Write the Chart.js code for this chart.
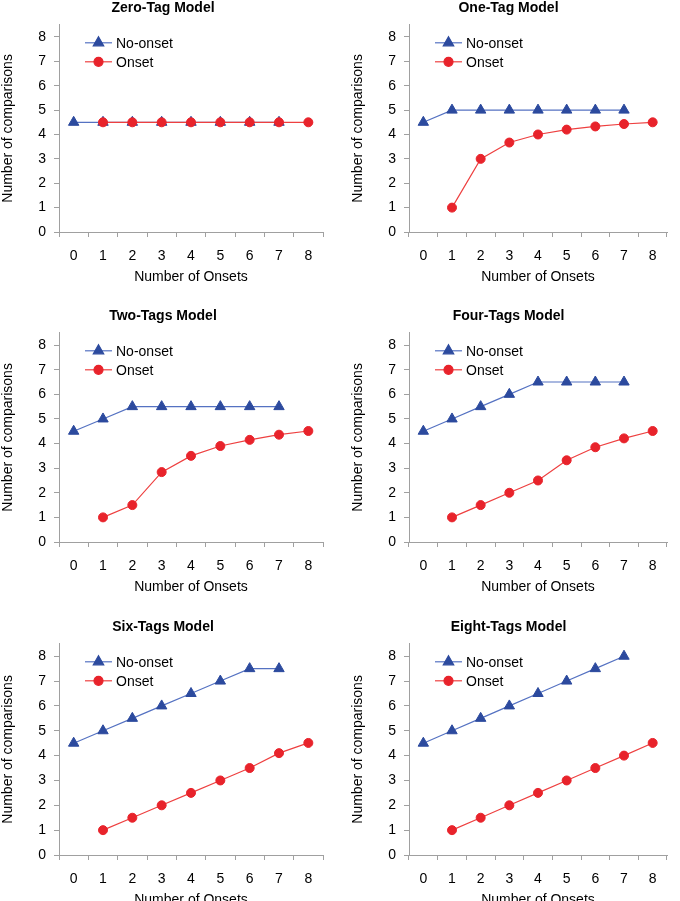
<!DOCTYPE html>
<html>
<head>
<meta charset="utf-8">
<script src="https://cdn.jsdelivr.net/npm/chart.js@4.4.1/dist/chart.umd.min.js"></script>
<style>
    body { margin: 0; background: #fff; width: 680px; height: 901px; position: relative; overflow: hidden; }
    canvas { position: absolute; }
</style>
</head>
<body>
<canvas id="zeroTag" width="330" height="286" style="left:0;top:0"></canvas>
<canvas id="oneTag" width="330" height="286" style="left:350px;top:0"></canvas>
<canvas id="twoTags" width="330" height="288" style="left:0;top:308px"></canvas>
<canvas id="fourTags" width="330" height="288" style="left:350px;top:308px"></canvas>
<canvas id="sixTags" width="330" height="290" style="left:0;top:619px"></canvas>
<canvas id="eightTags" width="330" height="290" style="left:350px;top:619px"></canvas>
<script>
// x categories and y tick values
const onsetCounts = ['0', '1', '2', '3', '4', '5', '6', '7', '8'];
const yTickValues = [0, 1, 2, 3, 4, 5, 6, 7, 8];

// number of comparisons per model (null = no point)
const zeroNoOnset  = [4.5, 4.5, 4.5, 4.5, 4.5, 4.5, 4.5, 4.5, null];
const zeroOnset    = [null, 4.5, 4.5, 4.5, 4.5, 4.5, 4.5, 4.5, 4.5];
const oneNoOnset   = [4.5, 5, 5, 5, 5, 5, 5, 5, null];
const oneOnset     = [null, 1, 3, 3.67, 4, 4.2, 4.33, 4.43, 4.5];
const twoNoOnset   = [4.5, 5, 5.5, 5.5, 5.5, 5.5, 5.5, 5.5, null];
const twoOnset     = [null, 1, 1.5, 2.84, 3.5, 3.9, 4.15, 4.36, 4.51];
const fourNoOnset  = [4.5, 5, 5.5, 6, 6.5, 6.5, 6.5, 6.5, null];
const fourOnset    = [null, 1, 1.5, 2, 2.5, 3.32, 3.85, 4.21, 4.51];
const sixNoOnset   = [4.5, 5, 5.5, 6, 6.5, 7, 7.5, 7.5, null];
const sixOnset     = [null, 1, 1.5, 2, 2.5, 3, 3.5, 4.1, 4.51];
const eightNoOnset = [4.5, 5, 5.5, 6, 6.5, 7, 7.5, 8, null];
const eightOnset   = [null, 1, 1.5, 2, 2.5, 3, 3.5, 4, 4.51];

const BLUE = '#2c4a9e';
const BLUE_LINE = '#5572c2';
const RED = '#e8232b';
const RED_LINE = '#ee4040';
const AXIS = '#a0a0a0';

Chart.defaults.font.family = "'Liberation Sans', Arial, sans-serif";
Chart.defaults.color = '#000';

// legend drawn inside the plot, Excel style: line with the marker on it
const insideLegend = {
    id: 'insideLegend',
    afterDraw(chart) {
        const { ctx, chartArea } = chart;
        chart.data.datasets.forEach((ds, i) => {
            const x0 = chartArea.left + 26;
            const y = chartArea.top + 18 + i * 19;
            ctx.save();
            ctx.strokeStyle = ds.borderColor;
            ctx.lineWidth = ds.borderWidth;
            ctx.beginPath();
            ctx.moveTo(x0, y);
            ctx.lineTo(x0 + 27, y);
            ctx.stroke();
            ctx.fillStyle = ds.pointBackgroundColor;
            ctx.strokeStyle = ds.pointBorderColor;
            Chart.helpers.drawPoint(ctx, {
                pointStyle: ds.pointStyle, radius: ds.pointRadius, rotation: 0, borderWidth: 1
            }, x0 + 13.5, y);
            ctx.fillStyle = '#000';
            ctx.font = "14px 'Liberation Sans', Arial, sans-serif";
            ctx.textBaseline = 'middle';
            ctx.fillText(ds.label, x0 + 31, y + 1);
            ctx.restore();
        });
    }
};

function makeChart(id, title, noOnset, onset, rightPad) {
    new Chart(document.getElementById(id), {
        type: 'line',
        data: {
            labels: onsetCounts,
            datasets: [{
                label: 'No-onset',
                data: noOnset,
                borderColor: BLUE_LINE,
                borderWidth: 1.2,
                pointStyle: 'triangle',
                pointRadius: 6,
                pointBackgroundColor: BLUE,
                pointBorderColor: BLUE,
                pointBorderWidth: 1,
                order: 2
            }, {
                label: 'Onset',
                data: onset,
                borderColor: RED_LINE,
                borderWidth: 1.2,
                pointStyle: 'circle',
                pointRadius: 4.5,
                pointBackgroundColor: RED,
                pointBorderColor: RED,
                pointBorderWidth: 1,
                order: 1
            }]
        },
        options: {
            responsive: false,
            animation: false,
            events: [],
            layout: { padding: { left: 0, right: rightPad, top: 0, bottom: 0 } },
            plugins: {
                legend: { display: false },
                tooltip: { enabled: false },
                title: {
                    display: true,
                    text: title,
                    color: '#000',
                    font: { size: 14, weight: 'bold' },
                    padding: { top: 0, bottom: 8 }
                }
            },
            scales: {
                x: {
                    offset: true,
                    grid: { offset: true, drawOnChartArea: false, tickLength: 5, color: AXIS },
                    border: { color: AXIS },
                    ticks: { padding: 11, font: { size: 14 }, maxRotation: 0, autoSkip: false },
                    title: { display: true, text: 'Number of Onsets', font: { size: 14 }, padding: 0 },
                    afterFit: s => { s.height = 54; }
                },
                y: {
                    min: 0,
                    max: 8.5,
                    afterBuildTicks: s => { s.ticks = yTickValues.map(v => ({ value: v })); },
                    grid: { drawOnChartArea: false, tickLength: 5, color: AXIS },
                    border: { color: AXIS },
                    ticks: { padding: 8, font: { size: 14 } },
                    title: { display: true, text: 'Number of comparisons', font: { size: 14 }, padding: 0 },
                    afterFit: s => { s.width = 59; }
                }
            }
        },
        plugins: [insideLegend]
    });
}

makeChart('zeroTag', 'Zero-Tag Model', zeroNoOnset, zeroOnset, 4);
makeChart('oneTag', 'One-Tag Model', oneNoOnset, oneOnset, 13);
makeChart('twoTags', 'Two-Tags Model', twoNoOnset, twoOnset, 4);
makeChart('fourTags', 'Four-Tags Model', fourNoOnset, fourOnset, 13);
makeChart('sixTags', 'Six-Tags Model', sixNoOnset, sixOnset, 4);
makeChart('eightTags', 'Eight-Tags Model', eightNoOnset, eightOnset, 13);
</script>
</body>
</html>
